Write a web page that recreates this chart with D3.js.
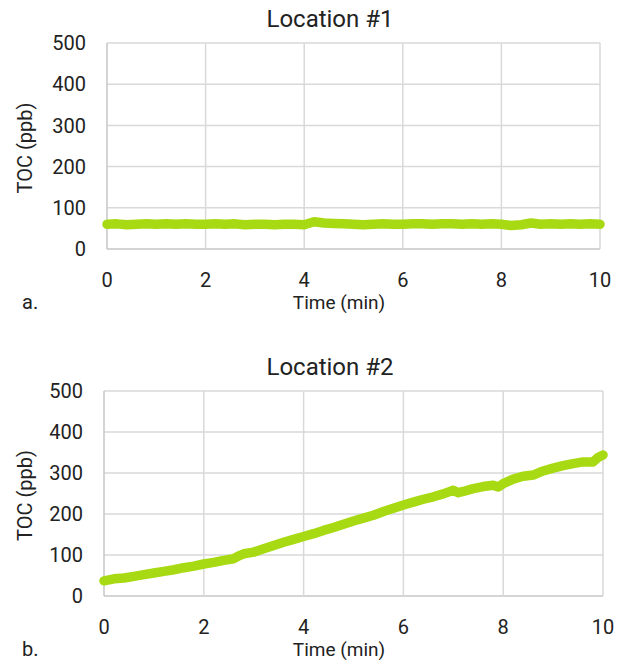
<!DOCTYPE html>
<html>
<head>
<meta charset="utf-8">
<script src="https://cdn.jsdelivr.net/npm/d3@7"></script>
<style>
  body { margin: 0; background: #fff; }
  text { font-family: Roboto, "Noto Sans", sans-serif; font-weight: 400; fill: #222; }
</style>
</head>
<body>
<svg id="chart" width="626" height="660"></svg>
<script>
const y_ticks = [0, 100, 200, 300, 400, 500]
const x_ticks = [0, 2, 4, 6, 8, 10]

// location 1 - time (min) and TOC (ppb)
const time_1 = [0, 0.2, 0.4, 0.6, 0.8, 1.0, 1.2, 1.4, 1.6, 1.8, 2.0, 2.2, 2.4, 2.6, 2.8, 3.0,
  3.2, 3.4, 3.6, 3.8, 4.0, 4.2, 4.4, 4.6, 4.8, 5.0, 5.2, 5.4, 5.6, 5.8, 6.0, 6.2, 6.4, 6.6,
  6.8, 7.0, 7.2, 7.4, 7.6, 7.8, 8.0, 8.2, 8.4, 8.6, 8.8, 9.0, 9.2, 9.4, 9.6, 9.8, 10]
const toc_1 = [60, 61, 59, 60, 61, 60, 61, 60, 61, 60, 60, 61, 60, 61, 59, 60,
  60, 59, 60, 60, 59, 66, 63, 62, 61, 60, 59, 60, 61, 60, 60, 61, 61, 60,
  61, 61, 60, 61, 60, 61, 60, 57, 59, 63, 60, 61, 60, 61, 60, 61, 60]

// location 2
const time_2 = [0, 0.2, 0.4, 0.6, 0.8, 1.0, 1.2, 1.4, 1.6, 1.8, 2.0, 2.2, 2.4, 2.6, 2.7, 2.8, 3.0,
  3.2, 3.4, 3.6, 3.8, 4.0, 4.2, 4.4, 4.6, 4.8, 5.0, 5.2, 5.4, 5.6, 5.8, 6.0, 6.2, 6.4, 6.6,
  6.8, 7.0, 7.1, 7.2, 7.4, 7.6, 7.8, 7.9, 8.0, 8.2, 8.4, 8.6, 8.8, 9.0, 9.2, 9.4, 9.6, 9.8, 9.9, 10]
const toc_2 = [37, 42, 44, 48, 52, 56, 60, 64, 69, 73, 78, 82, 87, 91, 98, 103, 107,
  115, 123, 131, 138, 145, 152, 160, 167, 175, 183, 190, 197, 206, 214, 222, 229, 236, 242,
  249, 258, 252, 255, 262, 267, 270, 266, 274, 285, 292, 295, 305, 312, 318, 323, 327, 327, 338, 344]

const titles = ['Location #1', 'Location #2']
const panel_tags = ['a.', 'b.']

const svg = d3.select('#chart')

function draw_panel(p) {
  let x = d3.scaleLinear().domain([0, 10]).range([p.left, p.right])
  let y = d3.scaleLinear().domain([0, 500]).range([p.bottom, p.top])
  let g = svg.append('g')

  // grid
  g.selectAll('.hgrid').data(y_ticks).enter().append('line')
    .attr('x1', p.left).attr('x2', p.right)
    .attr('y1', d => y(d)).attr('y2', d => y(d))
    .attr('stroke', d => d == 0 ? '#c6c6c6' : '#d9d9d9').attr('stroke-width', 1.5)
  g.selectAll('.vgrid').data(x_ticks).enter().append('line')
    .attr('x1', d => x(d)).attr('x2', d => x(d))
    .attr('y1', p.top).attr('y2', p.bottom)
    .attr('stroke', d => d == 0 ? '#c6c6c6' : '#d9d9d9').attr('stroke-width', 1.5)

  // tick labels
  g.selectAll('.ylab').data(y_ticks).enter().append('text')
    .attr('x', p.left - 21).attr('y', d => y(d)).attr('dy', '0.36em')
    .attr('text-anchor', 'end').attr('font-size', 20)
    .text(d => d)
  g.selectAll('.xlab').data(x_ticks).enter().append('text')
    .attr('x', d => x(d)).attr('y', p.bottom + 38)
    .attr('text-anchor', 'middle').attr('font-size', 20)
    .text(d => d)

  g.append('text').attr('x', 330).attr('y', p.top - 16)
    .attr('text-anchor', 'middle').attr('font-size', 24).text(p.title)
  g.append('text').attr('x', 339).attr('y', p.bottom + 60)
    .attr('text-anchor', 'middle').attr('font-size', 19).text('Time (min)')
  g.append('text').attr('x', 22).attr('y', p.bottom + 60)
    .attr('font-size', 20).text(p.tag)
  g.append('text')
    .attr('transform', `translate(32,${(p.top + p.bottom) / 2 + 2}) rotate(-90)`)
    .attr('text-anchor', 'middle').attr('font-size', 20).text('TOC (ppb)')

  let line = d3.line().x(d => x(d[0])).y(d => y(d[1]))
  g.append('path')
    .datum(d3.zip(p.times, p.values))
    .attr('d', line)
    .attr('fill', 'none').attr('stroke', '#a8da14')
    .attr('stroke-width', 9.5).attr('stroke-linecap', 'round').attr('stroke-linejoin', 'round')
}

draw_panel({ left: 107, right: 600, top: 43, bottom: 249, title: titles[0], tag: panel_tags[0], times: time_1, values: toc_1 })
draw_panel({ left: 104, right: 603, top: 391, bottom: 596, title: titles[1], tag: panel_tags[1], times: time_2, values: toc_2 })
</script>
</body>
</html>
